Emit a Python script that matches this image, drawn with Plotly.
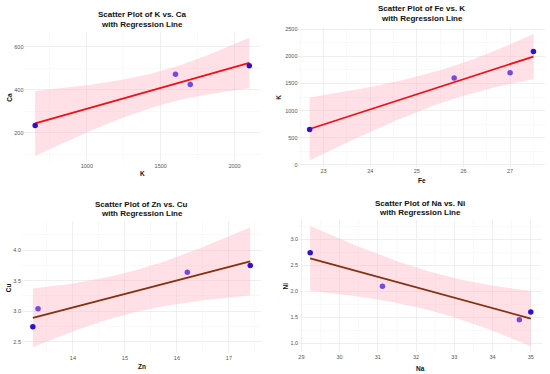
import numpy as np
import plotly.graph_objects as go

W, H = 550, 374

# ---- data ----
K_vals = [650, 1600, 1700, 2100]
Ca_vals = [235, 472, 425, 512]

Fe_vals = [22.7, 25.8, 27.0, 27.5]
K2_vals = [650, 1600, 1700, 2090]

Zn_vals = [13.23, 13.33, 16.2, 17.41]
Cu_vals = [2.745, 3.04, 3.64, 3.75]

Na_vals = [29.23, 31.12, 34.7, 35.0]
Ni_vals = [2.745, 2.10, 1.455, 1.605]

titles = ["Scatter Plot of K vs. Ca<br>with Regression Line",
          "Scatter Plot of Fe vs. K<br>with Regression Line",
          "Scatter Plot of Zn vs. Cu<br>with Regression Line",
          "Scatter Plot of Na vs. Ni<br>with Regression Line"]
xlabels = ["K", "Fe", "Zn", "Na"]
ylabels = ["Ca", "K", "Cu", "Ni"]

# ---- style / layout ----
panels = [
    dict(x=K_vals, y=Ca_vals, px=(23.5, 259.5, 30, 161), dx=500, dy=200, yfmt="",
         ty=(13, 23), xt_y=173, yt_x=9, line="#ee1111"),
    dict(x=Fe_vals, y=K2_vals, px=(298, 544.6, 26, 166), dx=1, dy=500, yfmt="",
         ty=(7, 17), xt_y=180, yt_x=278, line="#ee1111"),
    dict(x=Zn_vals, y=Cu_vals, px=(21, 260.6, 221, 354), dx=1, dy=0.5, yfmt=".1f",
         ty=(204, 213), xt_y=367, yt_x=7, line="#86300f"),
    dict(x=Na_vals, y=Ni_vals, px=(298.7, 541.8, 219.7, 353), dx=1, dy=0.5, yfmt=".1f",
         ty=(203, 212), xt_y=369, yt_x=285, line="#86300f"),
]

T_CRIT = 4.302653  # t(0.975, df=2)
DARK = "#2d10dc"
LIGHT = "#7748e6"
FONT = "Liberation Sans, Arial, sans-serif"

fig = go.Figure()
annotations = []
layout_axes = {}

for i, p in enumerate(panels):
    x = np.array(p["x"], float)
    y = np.array(p["y"], float)
    n = len(x)
    xbar, ybar = x.mean(), y.mean()
    sxx = ((x - xbar) ** 2).sum()
    b = ((x - xbar) * (y - ybar)).sum() / sxx
    a = ybar - b * xbar
    resid = y - (a + b * x)
    s = np.sqrt((resid ** 2).sum() / (n - 2))
    xs = np.linspace(x.min(), x.max(), 80)
    yh = a + b * xs
    se = s * np.sqrt(1 / n + (xs - xbar) ** 2 / sxx)
    lo, hi = yh - T_CRIT * se, yh + T_CRIT * se

    xr = [x.min() - 0.05 * (x.max() - x.min()), x.max() + 0.05 * (x.max() - x.min())]
    ymin = min(lo.min(), y.min()); ymax = max(hi.max(), y.max())
    yr = [ymin - 0.05 * (ymax - ymin), ymax + 0.05 * (ymax - ymin)]

    k = "" if i == 0 else str(i + 1)
    xa, ya = "x" + k, "y" + k

    fig.add_trace(go.Scatter(x=np.concatenate([xs, xs[::-1]]),
                             y=np.concatenate([hi, lo[::-1]]),
                             fill="toself", fillcolor="rgba(255,182,196,0.42)",
                             line=dict(width=0), mode="lines", hoverinfo="skip",
                             xaxis=xa, yaxis=ya, showlegend=False))
    fig.add_trace(go.Scatter(x=xs, y=yh, mode="lines",
                             line=dict(color=p["line"], width=1.8),
                             xaxis=xa, yaxis=ya, showlegend=False))
    order = np.argsort(x)
    cols = [LIGHT] * n
    cols[order[0]] = DARK
    cols[order[-1]] = DARK
    fig.add_trace(go.Scatter(x=x, y=y, mode="markers",
                             marker=dict(color=cols, size=5.5),
                             xaxis=xa, yaxis=ya, showlegend=False))

    l, r, t, bt = p["px"]
    common = dict(showline=False, zeroline=False, ticks="",
                  showgrid=True, gridcolor="#ebebeb", gridwidth=0.8,
                  tickfont=dict(size=5.5, color="#555555", family=FONT))
    layout_axes["xaxis" + k] = dict(common, domain=[l / W, r / W], range=xr,
                                    anchor=ya, dtick=p["dx"], tick0=0,
                                    minor=dict(showgrid=True, gridcolor="#f5f5f5",
                                               gridwidth=0.6, dtick=p["dx"] / 2,
                                               tick0=0))
    layout_axes["yaxis" + k] = dict(common, domain=[1 - bt / H, 1 - t / H], range=yr,
                                    anchor=xa, dtick=p["dy"], tick0=0,
                                    tickformat=p["yfmt"],
                                    minor=dict(showgrid=True, gridcolor="#f5f5f5",
                                               gridwidth=0.6, dtick=p["dy"] / 2,
                                               tick0=0))
    cx = (l + r) / 2
    tl = titles[i].split("<br>")
    for j, line in enumerate(tl):
        annotations.append(dict(text="<b>" + line + "</b>", x=cx / W, y=1 - p["ty"][j] / H,
                                xref="paper", yref="paper", showarrow=False,
                                xanchor="center", yanchor="middle",
                                font=dict(size=8, color="#111111", family=FONT)))
    annotations.append(dict(text="<b>" + xlabels[i] + "</b>", x=cx / W, y=1 - p["xt_y"] / H,
                            xref="paper", yref="paper", showarrow=False,
                            xanchor="center", yanchor="middle",
                            font=dict(size=6.5, color="#111111", family=FONT)))
    annotations.append(dict(text="<b>" + ylabels[i] + "</b>", x=p["yt_x"] / W,
                            y=1 - ((t + bt) / 2) / H,
                            xref="paper", yref="paper", showarrow=False, textangle=-90,
                            xanchor="center", yanchor="middle",
                            font=dict(size=6.5, color="#111111", family=FONT)))

fig.update_layout(width=W, height=H, margin=dict(l=0, r=0, t=0, b=0),
                  paper_bgcolor="white", plot_bgcolor="white", hovermode=False,
                  annotations=annotations, **layout_axes)

fig.write_html("out.html", config={"displayModeBar": False, "staticPlot": True},
               post_script="document.body.style.margin='0';document.body.style.padding='0';")
